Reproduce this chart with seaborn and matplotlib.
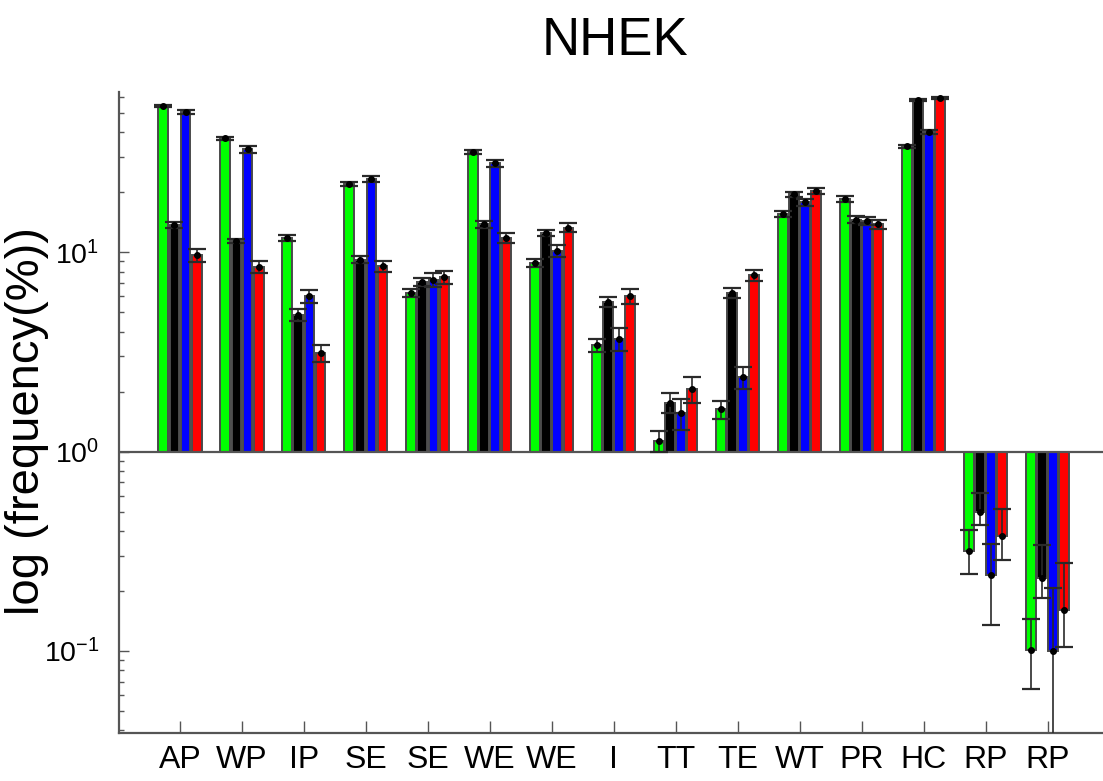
import numpy as np
import pandas as pd
import matplotlib
matplotlib.use("Agg")
import matplotlib.pyplot as plt
import seaborn as sns
from matplotlib.ticker import LogLocator, LogFormatterSciNotation, NullFormatter

# Category labels along the x axis (two pairs share a label)
categories = ["AP", "WP", "IP", "SE", "SE", "WE", "WE", "I",
              "TT", "TE", "WT", "PR", "HC", "RP", "RP"]
series = ["S1", "S2", "S3", "S4"]
colors = ["#00ff00", "#000000", "#0000ff", "#ff0000"]

# Mean frequency (%) per category for each series
green = [54.3, 37.3, 11.8, 22.0, 6.25, 31.8, 8.84, 3.41, 1.13, 1.63, 15.6, 18.5, 34.0, 0.316, 0.101]
black = [13.7, 11.4, 4.85, 9.19, 7.07, 13.8, 12.5, 5.63, 1.76, 6.25, 19.5, 14.6, 57.9, 0.497, 0.232]
blue = [50.7, 32.8, 6.02, 23.2, 7.29, 27.9, 10.2, 3.68, 1.56, 2.36, 17.8, 14.4, 40.1, 0.240, 0.100]
red = [9.66, 8.44, 3.12, 8.54, 7.51, 11.8, 13.3, 6.03, 2.06, 7.66, 20.3, 13.8, 59.6, 0.378, 0.161]

# Error bar extents below (lo) and above (hi) each mean
green_err_hi = [0.7, 0.6, 0.45, 0.6, 0.3, 0.7, 0.38, 0.25, 0.14, 0.17, 0.5, 0.6, 0.6, 0.088, 0.043]
green_err_lo = [0.7, 0.6, 0.45, 0.6, 0.3, 0.7, 0.38, 0.25, 0.14, 0.17, 0.5, 0.6, 0.6, 0.074, 0.037]
black_err_hi = [0.45, 0.3, 0.35, 0.35, 0.32, 0.55, 0.4, 0.3, 0.2, 0.35, 0.6, 0.55, 0.8, 0.12, 0.108]
black_err_lo = [0.45, 0.3, 0.35, 0.35, 0.32, 0.55, 0.4, 0.3, 0.2, 0.35, 0.6, 0.55, 0.8, 0.067, 0.047]
blue_err_hi = [1.2, 1.2, 0.45, 0.8, 0.6, 1.0, 0.7, 0.5, 0.28, 0.3, 0.8, 0.65, 1.0, 0.105, 0.107]
blue_err_lo = [1.2, 1.2, 0.45, 0.8, 0.6, 1.0, 0.7, 0.5, 0.28, 0.3, 0.8, 0.65, 1.0, 0.105, 0.107]
red_err_hi = [0.7, 0.6, 0.31, 0.55, 0.55, 0.65, 0.7, 0.5, 0.3, 0.5, 0.8, 0.7, 0.7, 0.135, 0.114]
red_err_lo = [0.7, 0.6, 0.31, 0.55, 0.55, 0.65, 0.7, 0.5, 0.3, 0.5, 0.8, 0.7, 0.7, 0.094, 0.057]

values = [green, black, blue, red]
errs_hi = [green_err_hi, black_err_hi, blue_err_hi, red_err_hi]
errs_lo = [green_err_lo, black_err_lo, blue_err_lo, red_err_lo]

sns.set_theme(style="ticks")
plt.rcParams["font.family"] = ["Liberation Sans", "DejaVu Sans"]
plt.rcParams["mathtext.default"] = "regular"
for key in ["text.color", "axes.labelcolor", "xtick.labelcolor", "ytick.labelcolor"]:
    plt.rcParams[key] = "black"

# Long table: bars rise (or fall) from a baseline of 1
rows = []
for name, vals in zip(series, values):
    for i, v in enumerate(vals):
        rows.append({"pos": i, "series": name, "excess": v - 1.0})
df = pd.DataFrame(rows)

fig = plt.figure(figsize=(11.03, 7.81), dpi=100)
ax = fig.add_axes([119 / 1103, 48 / 781, 984 / 1103, 641 / 781])

sns.barplot(data=df, x="pos", y="excess", hue="series", hue_order=series,
            palette=colors, saturation=1, width=0.712, gap=0.1, bottom=1.0,
            edgecolor="#4a4a4a", linewidth=1.4, errorbar=None,
            legend=False, ax=ax, zorder=2)

ax.set_yscale("log")

# Error bars placed at the centres of the drawn bars
for cont, vals, lo, hi in zip(ax.containers, values, errs_lo, errs_hi):
    xs = [p.get_x() + p.get_width() / 2 for p in cont.patches]
    ax.errorbar(xs, vals, yerr=[lo, hi], fmt="o", ms=4, mfc="black",
                mec="black", ecolor="#2a2a2a", elinewidth=1.2,
                capsize=6.5, capthick=1.6, zorder=4)

ax.axhline(1.0, color="#555555", lw=1.6, zorder=3)

ax.set_xlim(-0.984, 14.89)
ax.set_ylim(0.0387, 63.7)

ax.yaxis.set_major_locator(LogLocator(base=10))
ax.yaxis.set_minor_locator(LogLocator(base=10, subs=np.arange(2, 10)))
ax.yaxis.set_major_formatter(LogFormatterSciNotation())
ax.yaxis.set_minor_formatter(NullFormatter())

ax.set_xticks(range(len(categories)))
ax.set_xticklabels(categories)
ax.set_xlabel("")

for s in ["top", "right"]:
    ax.spines[s].set_visible(False)
for s in ["left", "bottom"]:
    ax.spines[s].set_color("#555555")
    ax.spines[s].set_linewidth(1.6)

ax.tick_params(axis="x", direction="in", length=9, width=1.0, color="#555555",
               labelsize=23, pad=9, labelcolor="black")
ax.tick_params(axis="y", which="major", direction="in", length=7, width=1.0,
               color="#555555", labelsize=20.5, pad=14, labelcolor="black")
ax.tick_params(axis="y", which="minor", direction="in", length=3.5, width=1.0,
               color="#555555")

ax.set_ylabel("log (frequency(%))", fontsize=34)
ax.yaxis.label.set_verticalalignment("center")
ax.yaxis.set_label_coords(-0.093, 0.487)

fig.text(615 / 1103, 1 - 41 / 781, "NHEK", ha="center", va="center", fontsize=38)

fig.savefig("out.png", dpi=100)
